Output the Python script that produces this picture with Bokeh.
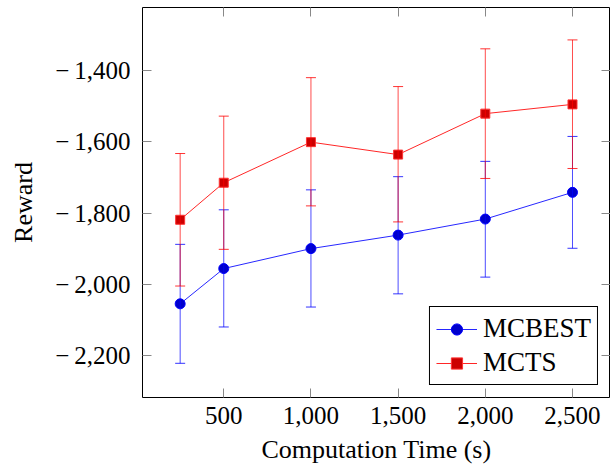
from bokeh.plotting import figure
from bokeh.models import (ColumnDataSource, Range1d, FixedTicker, LinearAxis,
                          Whisker, TeeHead, Legend, LegendItem)
from bokeh.embed import file_html
from bokeh.resources import INLINE

# ---- data ----
time_s = [250, 500, 1000, 1500, 2000, 2500]
mcbest_mean = [-2055, -1956, -1900, -1862, -1817, -1742]
mcbest_upper = [-1888, -1791, -1735, -1698, -1655, -1585]
mcbest_lower = [-2222, -2120, -2064, -2027, -1980, -1899]
mcts_mean = [-1819, -1715, -1601, -1636, -1521, -1495]
mcts_upper = [-1633, -1528, -1420, -1445, -1339, -1314]
mcts_lower = [-2005, -1902, -1780, -1825, -1703, -1675]

x_ticks = [500, 1000, 1500, 2000, 2500]
x_tick_labels = ["500", "1,000", "1,500", "2,000", "2,500"]
y_ticks = [-2200, -2000, -1800, -1600, -1400]
y_tick_labels = ["\u2212\u20092,200", "\u2212\u20092,000", "\u2212\u20091,800",
                 "\u2212\u20091,600", "\u2212\u20091,400"]

FONT = "Liberation Serif"
TICK_FS = "25px"
LABEL_FS = "26px"
TICK_COLOR = "#888888"

p = figure(frame_width=468, frame_height=390,
           x_range=Range1d(34, 2718), y_range=Range1d(-2318, -1223),
           output_backend="svg", toolbar_location=None,
           min_border_left=142, min_border_right=0, min_border_top=7,
           min_border_bottom=70)
p.background_fill_color = "white"
p.border_fill_color = "white"
p.outline_line_color = "black"
p.outline_line_width = 1
p.grid.visible = False

def style_axis(ax, ticks, labels):
    ax.ticker = FixedTicker(ticks=ticks)
    ax.major_tick_in = 9
    ax.major_tick_out = 0
    ax.minor_tick_in = 0
    ax.minor_tick_out = 0
    ax.major_tick_line_color = TICK_COLOR
    ax.axis_line_color = None
    ax.major_label_overrides = {t: l for t, l in zip(ticks, labels)}
    ax.major_label_text_font = FONT
    ax.major_label_text_font_size = TICK_FS
    ax.major_label_text_color = "black"
    ax.axis_label_text_font = FONT
    ax.axis_label_text_font_size = LABEL_FS
    ax.axis_label_text_font_style = "normal"
    ax.axis_label_text_color = "black"

style_axis(p.xaxis[0], x_ticks, x_tick_labels)
style_axis(p.yaxis[0], y_ticks, y_tick_labels)
p.xaxis[0].axis_label = "Computation Time (s)"
p.yaxis[0].axis_label = "Reward"
p.xaxis[0].major_label_standoff = 9
p.xaxis[0].axis_label_standoff = 8
p.yaxis[0].major_label_standoff = 12
p.yaxis[0].axis_label_standoff = 14

# mirrored ticks on top and right (no labels)
top_ax = LinearAxis()
style_axis(top_ax, x_ticks, [""] * len(x_ticks))
top_ax.major_label_standoff = 0
p.add_layout(top_ax, "above")
right_ax = LinearAxis()
style_axis(right_ax, y_ticks, [""] * len(y_ticks))
right_ax.major_label_standoff = 0
p.add_layout(right_ax, "right")

src_b = ColumnDataSource(dict(x=time_s, y=mcbest_mean, up=mcbest_upper, lo=mcbest_lower))
src_r = ColumnDataSource(dict(x=time_s, y=mcts_mean, up=mcts_upper, lo=mcts_lower))

# error bars
for src, col in ((src_b, "#0000ff"), (src_r, "#ff0000")):
    w = Whisker(base="x", upper="up", lower="lo", source=src, dimension="height",
                line_color=col, line_alpha=0.7, line_width=1,
                upper_head=TeeHead(size=10, line_color=col, line_alpha=0.8, line_width=1),
                lower_head=TeeHead(size=10, line_color=col, line_alpha=0.8, line_width=1))
    w.level = "glyph"
    p.add_layout(w)

lb = p.line("x", "y", source=src_b, line_color="#0000ff", line_alpha=0.85, line_width=1)
mb = p.scatter("x", "y", source=src_b, marker="circle", size=10,
               fill_color="#0000cc", line_color="#0000ff", line_width=1)
lr = p.line("x", "y", source=src_r, line_color="#ff0000", line_alpha=0.85, line_width=1)
mr = p.scatter("x", "y", source=src_r, marker="square", size=9,
               fill_color="#cc0000", line_color="#ff3333", line_width=1)

legend = Legend(items=[LegendItem(label="MCBEST", renderers=[lb, mb]),
                       LegendItem(label="MCTS", renderers=[lr, mr])],
                location="bottom_right")
legend.margin = 12
legend.padding = 6
legend.spacing = 3
legend.glyph_width = 41
legend.glyph_height = 28
legend.label_height = 28
legend.label_standoff = 6
legend.label_text_font = FONT
legend.label_text_font_size = "27px"
legend.label_text_color = "black"
legend.border_line_color = "black"
legend.border_line_width = 1
legend.border_line_alpha = 1
legend.background_fill_alpha = 1
p.add_layout(legend, "center")

open("out.html", "w").write(file_html(p, INLINE))
